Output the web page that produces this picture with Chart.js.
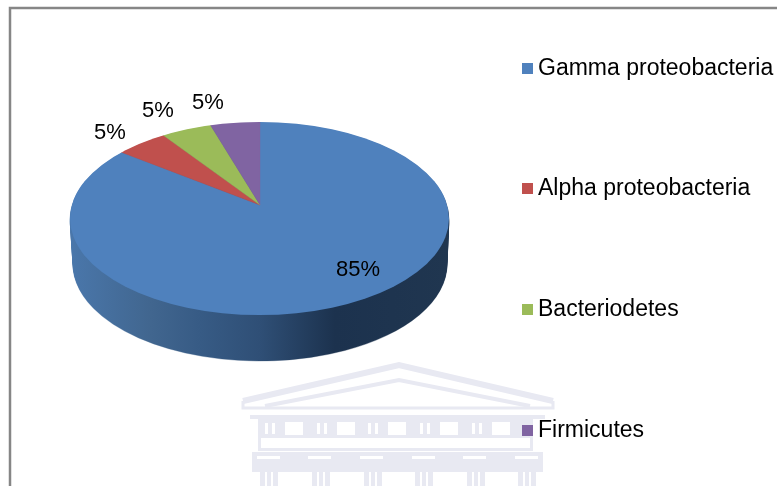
<!DOCTYPE html>
<html>
<head>
<meta charset="utf-8">
<style>
html,body{margin:0;padding:0;background:#fff}
canvas{display:block}
</style>
<script src="https://cdn.jsdelivr.net/npm/chart.js@4/dist/chart.umd.js"></script>
</head>
<body>
<canvas id="c" width="777" height="486"></canvas>
<script>
const categories = ["Gamma proteobacteria", "Alpha proteobacteria", "Bacteriodetes", "Firmicutes"];
const shares = [85, 5, 5, 5];
const sliceColors = ["#4F81BD", "#C0504D", "#9BBB59", "#8064A2"];

// Text placement and the 3D look, kept apart from the data
const labelAnchors = [[358, 270], [110, 133], [158, 111], [208, 103]];
const legendRows = [68, 188, 309, 430];
const FONT = '"Liberation Sans", Arial, sans-serif';
const top3d = {cx: 259.5, cy: 218.5, rx: 189.5, ry: 96.5};
const bottom3d = {cx: 260, cy: 264.5, rx: 187, ry: 96.5};
const wedge = {cx: 260, cy: 205, rx: 229, ry: 120};
const sideStops = [[70, "#4a77ab"], [150, "#41668f"], [200, "#375b85"], [260, "#2f4f76"], [335, "#1c324e"], [449, "#203650"]];

function drawWatermark(ctx) {
  const pale = "#e8e9f2";
  ctx.save();
  ctx.strokeStyle = pale;
  ctx.lineJoin = "miter";
  ctx.lineWidth = 6;
  ctx.beginPath(); ctx.moveTo(243, 401); ctx.lineTo(399, 365); ctx.lineTo(553, 401); ctx.stroke();
  ctx.lineWidth = 4;
  ctx.beginPath(); ctx.moveTo(265, 406); ctx.lineTo(399, 380); ctx.lineTo(530, 406); ctx.stroke();
  ctx.lineWidth = 3;
  ctx.beginPath(); ctx.moveTo(243, 401); ctx.lineTo(243, 408); ctx.lineTo(553, 408); ctx.lineTo(553, 401); ctx.stroke();
  ctx.fillStyle = pale;
  ctx.fillRect(250, 415, 295, 4);
  ctx.fillRect(258, 419, 275, 19);
  ctx.fillRect(258, 438, 3, 13);
  ctx.fillRect(530, 438, 3, 13);
  ctx.fillRect(258, 448, 275, 3);
  ctx.fillRect(252, 452, 291, 20);
  ctx.fillStyle = "#fff";
  [285, 337, 388, 440, 492].forEach(x => {
    ctx.fillRect(x, 422, 18, 13);
    ctx.fillRect(x - 20, 423, 3, 11);
    ctx.fillRect(x - 13, 423, 3, 11);
  });
  [257, 308, 360, 412, 463, 515].forEach(x => ctx.fillRect(x, 456, 23, 3));
  ctx.fillStyle = pale;
  [260, 312, 364, 415, 467, 518].forEach(x => {
    ctx.fillRect(x, 472, 18, 14);
  });
  ctx.fillStyle = "#fff";
  [260, 312, 364, 415, 467, 518].forEach(x => {
    ctx.fillRect(x + 5, 472, 2, 14);
    ctx.fillRect(x + 11, 472, 2, 14);
  });
  ctx.restore();
}

function fitArc(ctx, el, box) {
  ctx.translate(box.cx, box.cy);
  ctx.scale(box.rx / el.outerRadius, box.ry / el.outerRadius);
  ctx.translate(-el.x, -el.y);
}

const pie3d = {
  id: "pie3d",
  beforeDraw(chart) {
    const ctx = chart.ctx;
    ctx.save();
    ctx.fillStyle = "#fff";
    ctx.fillRect(0, 0, 777, 486);
    drawWatermark(ctx);
    ctx.strokeStyle = "#868686";
    ctx.lineWidth = 2.5;
    ctx.beginPath();
    ctx.moveTo(10, 490); ctx.lineTo(10, 8); ctx.lineTo(780, 8);
    ctx.stroke();
    ctx.restore();
  },
  beforeDatasetsDraw(chart) {
    const ctx = chart.ctx;
    const arcs = chart.getDatasetMeta(0).data;
    const ref = arcs[0];
    const steps = 46;
    // extruded side: the library's own arcs, repeated downward with a shaded fill
    for (let i = steps; i >= 1; i--) {
      const t = i / steps;
      const box = {
        cx: top3d.cx + (bottom3d.cx - top3d.cx) * t,
        cy: top3d.cy + (bottom3d.cy - top3d.cy) * t,
        rx: top3d.rx + (bottom3d.rx - top3d.rx) * t,
        ry: top3d.ry
      };
      ctx.save();
      fitArc(ctx, ref, box);
      const k = box.rx / ref.outerRadius;
      const g = ctx.createLinearGradient(ref.x + (70 - box.cx) / k, 0, ref.x + (449 - box.cx) / k, 0);
      sideStops.forEach(s => g.addColorStop((s[0] - 70) / 379, s[1]));
      arcs.forEach(a => {
        const saved = a.options;
        const o = Object.create(saved);
        o.backgroundColor = g;
        o.borderColor = g;
        a.options = o;
        a.draw(ctx);
        a.options = saved;
      });
      ctx.restore();
    }
    // top face: wedges meet at the perspective apex, rim is the outer ellipse
    ctx.save();
    ctx.beginPath();
    ctx.ellipse(top3d.cx, top3d.cy, top3d.rx, top3d.ry, 0, 0, Math.PI * 2);
    ctx.clip();
    fitArc(ctx, ref, wedge);
  },
  afterDatasetsDraw(chart) {
    const ctx = chart.ctx;
    ctx.restore();
    ctx.save();
    ctx.fillStyle = "#000";
    ctx.textBaseline = "middle";
    ctx.textAlign = "center";
    ctx.font = "22px " + FONT;
    const total = shares.reduce((a, b) => a + b, 0);
    shares.forEach((v, i) => {
      ctx.fillText(Math.round(v / total * 100) + "%", labelAnchors[i][0], labelAnchors[i][1]);
    });
    ctx.textAlign = "left";
    ctx.font = "23px " + FONT;
    categories.forEach((name, i) => {
      ctx.fillStyle = sliceColors[i];
      ctx.fillRect(522, legendRows[i] - 5, 11, 11);
      ctx.fillStyle = "#000";
      ctx.fillText(name, 538, legendRows[i] + 1);
    });
    ctx.restore();
  }
};

new Chart(document.getElementById("c"), {
  type: "pie",
  data: {
    labels: categories,
    datasets: [{
      data: shares,
      backgroundColor: sliceColors,
      borderColor: sliceColors,
      borderWidth: 0.6,
      clip: false
    }]
  },
  options: {
    responsive: false,
    animation: false,
    devicePixelRatio: 1,
    plugins: {legend: {display: false}, tooltip: {enabled: false}, title: {display: false}}
  },
  plugins: [pie3d]
});
</script>
</body>
</html>
